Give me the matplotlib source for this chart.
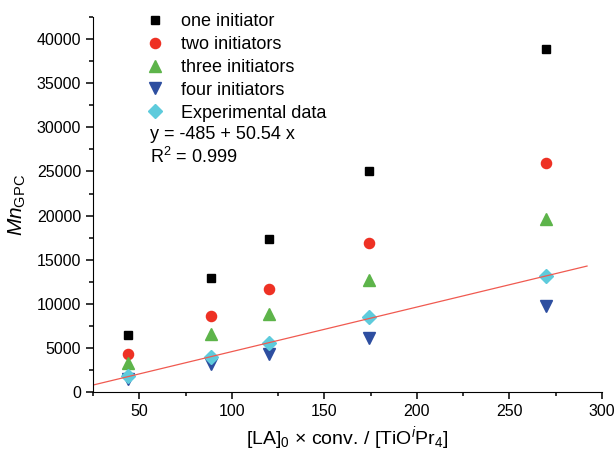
import matplotlib.pyplot as plt
from matplotlib.ticker import MultipleLocator

plt.rcParams['font.family'] = ['Liberation Sans', 'DejaVu Sans']
plt.rcParams['mathtext.fontset'] = 'custom'
plt.rcParams['mathtext.rm'] = 'Liberation Sans'
plt.rcParams['mathtext.it'] = 'Liberation Sans:italic'

# x values ([LA]0 x conv. / [TiOiPr4])
x_vals = [44, 89, 120, 174, 270]

# Mn (GPC) for each series
one_init = [6450, 12950, 17350, 25050, 38900]
two_init = [4300, 8650, 11650, 16850, 26000]
three_init = [3300, 6600, 8800, 12700, 19600]
four_init = [1500, 3200, 4350, 6150, 9750]
experimental = [1800, 3950, 5550, 8550, 13100]

# linear fit shown on the chart
fit_a = -485
fit_b = 50.54
fit_x = [25, 292]

fig = plt.figure(figsize=(6.16, 4.51), dpi=100)
ax = fig.add_axes([0.151, 0.131, 0.826, 0.831])

ax.plot(x_vals, one_init, 's', color='black', markersize=6.3, label='one initiator')
ax.plot(x_vals, two_init, 'o', color='#ee3124', markersize=7.3, label='two initiators')
ax.plot(x_vals, three_init, '^', color='#5db44a', markersize=8, label='three initiators')
ax.plot(x_vals, four_init, 'v', color='#2d4ea0', markersize=8, label='four initiators')
ax.plot(x_vals, experimental, 'D', color='#5ecbdc', markersize=6.8, label='Experimental data')

fit_y = [fit_a + fit_b * v for v in fit_x]
ax.plot(fit_x, fit_y, '-', color='#f05a50', linewidth=0.9)

ax.set_xlim(25, 300)
ax.set_ylim(0, 42500)
ax.xaxis.set_major_locator(MultipleLocator(50))
ax.xaxis.set_minor_locator(MultipleLocator(25))
ax.yaxis.set_major_locator(MultipleLocator(5000))
ax.yaxis.set_minor_locator(MultipleLocator(2500))

ax.spines['top'].set_visible(False)
ax.spines['right'].set_visible(False)
ax.tick_params(which='major', direction='out', length=5, width=1.1, labelsize=11.5)
ax.tick_params(which='minor', direction='out', length=3, width=1.1)

ax.set_xlabel(r'[LA]$_0$ × conv. / [TiO$^{\mathit{i}}$Pr$_4$]', fontsize=14, labelpad=4)
ax.set_ylabel(r'$\mathit{Mn}_{\mathrm{GPC}}$', fontsize=15, labelpad=6)

ax.legend(loc='upper left', bbox_to_anchor=(0.062, 1.045), frameon=False,
          fontsize=13, handletextpad=0.4, labelspacing=0.33, borderpad=0.2)

ax.text(0.112, 0.688, 'y = -485 + 50.54 x', transform=ax.transAxes,
        fontsize=13, va='center')
ax.text(0.112, 0.627, r'R$^2$ = 0.999', transform=ax.transAxes,
        fontsize=13, va='center')

fig.savefig('out.png', dpi=100)
